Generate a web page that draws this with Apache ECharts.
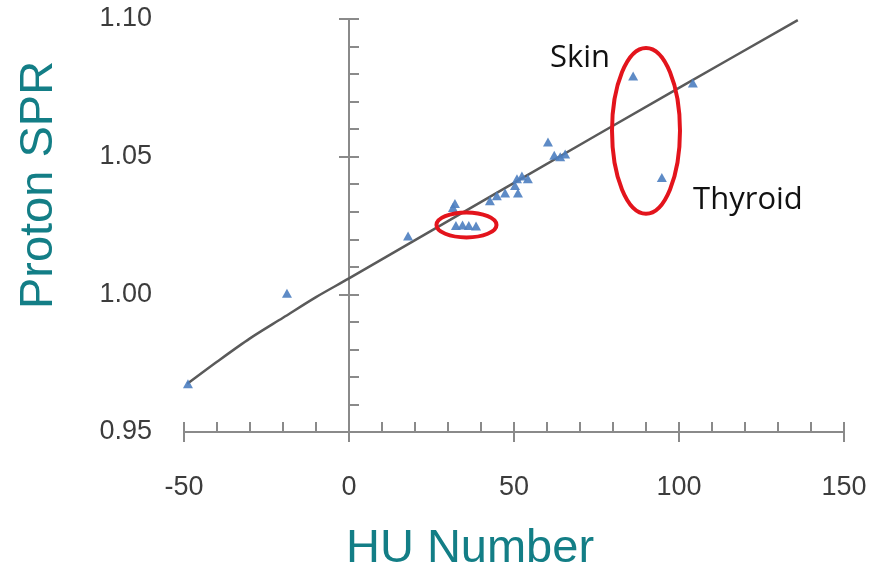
<!DOCTYPE html>
<html>
<head>
<meta charset="utf-8">
<script src="https://cdn.jsdelivr.net/npm/echarts@6/dist/echarts.min.js"></script>
<style>
  html, body { margin: 0; padding: 0; background: #ffffff; }
  #chart { width: 873px; height: 572px; }
</style>
</head>
<body>
<div id="chart"></div>
<script>
// Measured tissues: CT number (HU) and proton stopping-power ratio
const tissueHU  = [-48.8, -18.8, 17.9, 32.1, 31.5, 32.4, 34.4, 36.3, 38.5, 42.7, 44.8, 47.3,
                   50.3, 50.9, 52.4, 54.2, 51.2, 60.3, 62.2, 64.0, 65.5, 86.1, 94.8, 104.2];
const tissueSPR = [0.9675, 1.0004, 1.0212, 1.0330, 1.0315, 1.0250, 1.0252, 1.0250, 1.0248, 1.0340, 1.0358, 1.0368,
                   1.0395, 1.0420, 1.0430, 1.0420, 1.0368, 1.0553, 1.0505, 1.0500, 1.0510, 1.0793, 1.0424, 1.0768];

// HU-to-SPR calibration curve
const curveHU  = [-49, -40, -30, -20, -10, 0, 50, 100, 136];
const curveSPR = [0.9675, 0.9755, 0.9840, 0.9915, 0.9990, 1.0058, 1.0405, 1.0750, 1.0996];

// Axis ranges
const xRange = [-50, 150];
const xStep = 50;
const yRange = [0.95, 1.10];
const yStep = 0.05;

// Highlighted groups (centre and half-extent in data units)
const groupRings = [
  { hu: 90.0, spr: 1.0594, halfHU: 10.3, halfSPR: 0.0301 },
  { hu: 35.6, spr: 1.0252, halfHU: 9.1, halfSPR: 0.00453 }
];
const notes = [
  { text: 'Skin', hu: 70.0, spr: 1.0859 },
  { text: 'Thyroid', hu: 120.9, spr: 1.0341 }
];

const axisGray = '#8a8a8a';
const labelGray = '#3c3c3c';
const teal = '#137e86';
const ringRed = '#e3141c';

const chart = echarts.init(document.getElementById('chart'));

const tickCommon = { lineStyle: { color: axisGray, width: 2 } };

const option = {
  backgroundColor: '#ffffff',
  animation: false,
  grid: { left: 184, right: 29, top: 19, bottom: 140, containLabel: false, outerBoundsMode: 'none' },
  xAxis: [
    {
      type: 'value', min: xRange[0], max: xRange[1], interval: xStep, position: 'bottom',
      axisLine: { show: true, onZero: false, lineStyle: { color: axisGray, width: 2 } },
      axisTick: Object.assign({ show: true, inside: true, length: 10 }, tickCommon),
      minorTick: { show: true, splitNumber: 5, length: 10, lineStyle: { color: axisGray, width: 2 } },
      splitLine: { show: false }, minorSplitLine: { show: false },
      axisLabel: {
        show: true, margin: 42, color: labelGray, fontSize: 27,
        fontFamily: 'Liberation Sans', showMinLabel: true, showMaxLabel: true,
        formatter: v => String(v)
      }
    },
    {
      type: 'value', min: xRange[0], max: xRange[1], interval: xStep, position: 'bottom',
      axisLine: { show: false, onZero: false },
      axisTick: Object.assign({ show: true, inside: false, length: 10 }, tickCommon),
      splitLine: { show: false },
      axisLabel: { show: false }
    }
  ],
  yAxis: [
    {
      type: 'value', min: yRange[0], max: yRange[1], interval: yStep, position: 'left',
      axisLine: { show: false, onZero: false },
      axisTick: { show: false },
      splitLine: { show: false },
      axisLabel: {
        show: true, margin: 32, color: labelGray, fontSize: 27,
        fontFamily: 'Liberation Sans', showMinLabel: true, showMaxLabel: true,
        formatter: v => v.toFixed(2)
      }
    },
    {
      type: 'value', min: yRange[0], max: yRange[1], interval: yStep, position: 'left',
      axisLine: { show: true, onZero: true, onZeroAxisIndex: 0, lineStyle: { color: axisGray, width: 2 } },
      axisTick: Object.assign({ show: true, inside: true, length: 10 }, tickCommon),
      minorTick: { show: true, splitNumber: 5, length: 10, lineStyle: { color: axisGray, width: 2 } },
      splitLine: { show: false }, minorSplitLine: { show: false },
      axisLabel: { show: false }
    },
    {
      type: 'value', min: yRange[0], max: yRange[1], interval: yStep, position: 'left',
      axisLine: { show: true, onZero: true, onZeroAxisIndex: 0, lineStyle: { color: axisGray, width: 2 } },
      axisTick: Object.assign({ show: true, inside: false, length: 10 }, tickCommon),
      splitLine: { show: false },
      axisLabel: { show: false }
    }
  ],
  series: [
    {
      type: 'line', xAxisIndex: 0, yAxisIndex: 0,
      data: curveHU.map((h, i) => [h, curveSPR[i]]),
      smooth: 0.3, showSymbol: false, symbol: 'none',
      lineStyle: { color: '#5a5a5a', width: 2.5 },
      z: 3
    },
    {
      type: 'scatter', xAxisIndex: 0, yAxisIndex: 0,
      data: tissueHU.map((h, i) => [h, tissueSPR[i]]),
      symbol: 'triangle', symbolSize: [10, 9],
      itemStyle: { color: '#4d7ec0', opacity: 0.9 },
      z: 4
    }
  ]
};

chart.setOption(option);

// Annotations anchored to data coordinates
const toPx = (h, s) => chart.convertToPixel({ xAxisIndex: 0, yAxisIndex: 0 }, [h, s]);

const graphics = [];
groupRings.forEach(r => {
  const c = toPx(r.hu, r.spr);
  const e = toPx(r.hu + r.halfHU, r.spr + r.halfSPR);
  graphics.push({
    type: 'ellipse', z: 10,
    shape: { cx: c[0], cy: c[1], rx: Math.abs(e[0] - c[0]), ry: Math.abs(e[1] - c[1]) },
    style: { fill: 'none', stroke: ringRed, lineWidth: 4 }
  });
});
notes.forEach(n => {
  const p = toPx(n.hu, n.spr);
  graphics.push({
    type: 'text', z: 10, x: p[0], y: p[1],
    style: {
      text: n.text, fill: '#111111', font: '31px "Open Sans"',
      align: 'center', verticalAlign: 'middle'
    }
  });
});
// Axis titles
graphics.push({
  type: 'text', z: 10, x: 39, y: 185, rotation: Math.PI / 2,
  style: { text: 'Proton SPR', fill: teal, font: '47px "Liberation Sans"', align: 'center', verticalAlign: 'middle' }
});
graphics.push({
  type: 'text', z: 10, x: 470, y: 549,
  style: { text: 'HU Number', fill: teal, font: '47px "Liberation Sans"', align: 'center', verticalAlign: 'middle' }
});

chart.setOption({ graphic: graphics });
</script>
</body>
</html>
